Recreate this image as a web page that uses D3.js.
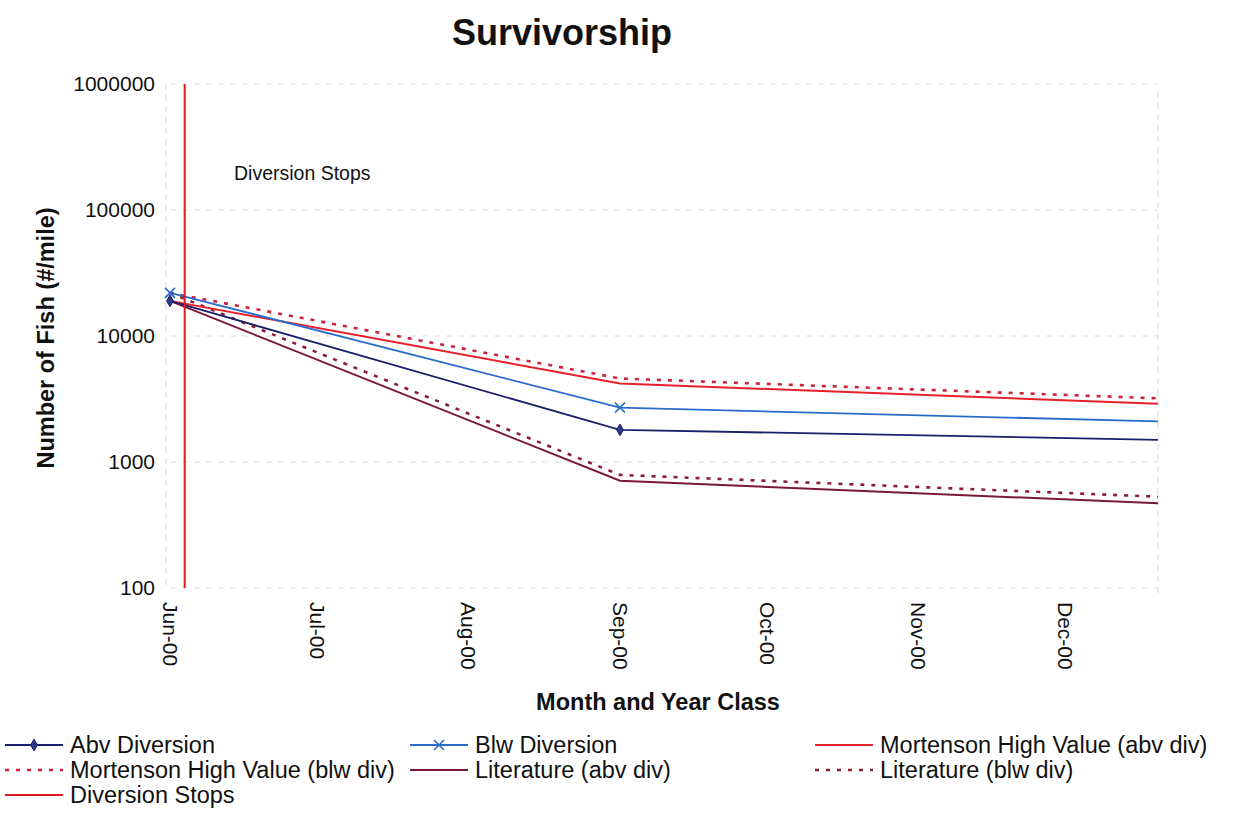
<!DOCTYPE html>
<html>
<head>
<meta charset="utf-8">
<script src="https://cdn.jsdelivr.net/npm/d3@7"></script>
<style>
  body { margin: 0; background: #fff; }
  svg { font-family: "Liberation Sans", Arial, sans-serif; }
</style>
</head>
<body>
<div id="chart"></div>
<script>
// data
const pointDates = ["2000-06-01", "2000-09-01", "2000-12-20"];
const abvDiversion = [19000, 1800, 1500];
const blwDiversion = [22000, 2700, 2100];
const mortensonAbv = [19000, 4200, 2900];
const mortensonBlw = [22000, 4600, 3200];
const literatureAbv = [19000, 710, 470];
const literatureBlw = [22000, 790, 530];
const diversionStopDate = "2000-06-04";
const diversionStopRange = [100, 1000000];
const yTicks = [100, 1000, 10000, 100000, 1000000];
const monthTicks = ["2000-06-01", "2000-07-01", "2000-08-01", "2000-09-01", "2000-10-01", "2000-11-01", "2000-12-01"];
const xDomain = ["2000-06-01", "2000-12-20"];

const parse = d3.utcParse("%Y-%m-%d");
const width = 1234, height = 824;
const plot = {left: 170, right: 1158, top: 84, bottom: 588};

const svg = d3.select("#chart").append("svg")
  .attr("width", width)
  .attr("height", height);

const x = d3.scaleUtc()
  .domain(xDomain.map(parse))
  .range([plot.left, plot.right]);

const y = d3.scaleLog()
  .domain([100, 1000000])
  .range([plot.bottom, plot.top]);

// grid
svg.append("g")
  .selectAll("line")
  .data(yTicks)
  .join("line")
  .attr("x1", plot.left)
  .attr("x2", plot.right)
  .attr("y1", d => y(d))
  .attr("y2", d => y(d))
  .attr("stroke", "#dedede")
  .attr("stroke-dasharray", "6,6");

svg.append("line")
  .attr("x1", plot.right).attr("x2", plot.right)
  .attr("y1", plot.top + 8).attr("y2", plot.bottom + 8)
  .attr("stroke", "#d8d8d8")
  .attr("stroke-dasharray", "6,5");

svg.append("line")
  .attr("x1", plot.left - 4).attr("x2", plot.left - 4)
  .attr("y1", plot.top).attr("y2", plot.bottom)
  .attr("stroke", "#d8d8d8")
  .attr("stroke-dasharray", "6,5");

// y axis labels
const yAxis = d3.axisLeft(y)
  .tickValues(yTicks)
  .tickFormat(d3.format("d"))
  .tickSize(0)
  .tickPadding(15);

svg.append("g")
  .attr("transform", `translate(${plot.left},0)`)
  .call(yAxis)
  .call(g => g.select(".domain").remove())
  .call(g => g.selectAll("text")
    .attr("font-size", 21)
    .attr("fill", "#111")
    .attr("font-family", "Liberation Sans, Arial, sans-serif"));

// x axis labels
const xAxis = d3.axisBottom(x)
  .tickValues(monthTicks.map(parse))
  .tickFormat(d3.utcFormat("%b-%y"))
  .tickSize(0);

svg.append("g")
  .attr("transform", `translate(0,${plot.bottom})`)
  .call(xAxis)
  .call(g => g.select(".domain").remove())
  .call(g => g.selectAll("text")
    .attr("font-size", 21)
    .attr("fill", "#111")
    .attr("font-family", "Liberation Sans, Arial, sans-serif")
    .attr("text-anchor", "start")
    .attr("transform", "rotate(90)")
    .attr("x", 14)
    .attr("y", 0)
    .attr("dy", "0.35em"));

// series
const series = [
  {name: "Literature (blw div)", values: literatureBlw, color: "#8c1c34", dash: "4,7", width: 2.6},
  {name: "Literature (abv div)", values: literatureAbv, color: "#7a1838", dash: null, width: 2},
  {name: "Mortenson High Value (blw div)", values: mortensonBlw, color: "#d0203c", dash: "4,7", width: 2.6},
  {name: "Mortenson High Value (abv div)", values: mortensonAbv, color: "#e8202c", dash: null, width: 2},
  {name: "Blw Diversion", values: blwDiversion, color: "#2a6ccc", dash: null, width: 1.8, marker: "x"},
  {name: "Abv Diversion", values: abvDiversion, color: "#1c1f6a", dash: null, width: 1.8, marker: "diamond"}
];

const line = d3.line()
  .x(d => x(d.date))
  .y(d => y(d.value));

series.forEach(s => {
  s.points = pointDates.map((d, i) => ({date: parse(d), value: s.values[i]}));
  svg.append("path")
    .datum(s.points)
    .attr("d", line)
    .attr("fill", "none")
    .attr("stroke", s.color)
    .attr("stroke-width", s.width)
    .attr("stroke-dasharray", s.dash);
});

function drawMarker(g, type, cx, cy, color) {
  if (type === "diamond") {
    g.append("path")
      .attr("d", d3.symbol(d3.symbolDiamond, 40)())
      .attr("transform", `translate(${cx},${cy})`)
      .attr("fill", "#2a3a8a")
      .attr("stroke", color)
      .attr("stroke-width", 1);
  } else if (type === "x") {
    g.append("path")
      .attr("d", "M-5,-5L5,5M-5,5L5,-5")
      .attr("transform", `translate(${cx},${cy})`)
      .attr("stroke", color)
      .attr("stroke-width", 1.6);
  }
}

const markers = svg.append("g");
series.filter(s => s.marker).forEach(s => {
  s.points.forEach(p => {
    if (p.date.getTime() === parse(pointDates[2]).getTime()) return;
    drawMarker(markers, s.marker, x(p.date), y(p.value), s.color);
  });
});

// diversion stops line
svg.append("line")
  .attr("x1", x(parse(diversionStopDate)))
  .attr("x2", x(parse(diversionStopDate)))
  .attr("y1", y(diversionStopRange[1]))
  .attr("y2", y(diversionStopRange[0]))
  .attr("stroke", "#e01a22")
  .attr("stroke-width", 2);

svg.append("text")
  .attr("x", 234)
  .attr("y", 180)
  .attr("font-size", 19.5)
  .attr("fill", "#111")
  .text("Diversion Stops");

// titles
svg.append("text")
  .attr("x", 562)
  .attr("y", 45)
  .attr("text-anchor", "middle")
  .attr("font-size", 36)
  .attr("font-weight", "bold")
  .attr("fill", "#111")
  .text("Survivorship");

svg.append("text")
  .attr("transform", `translate(54,338) rotate(-90)`)
  .attr("text-anchor", "middle")
  .attr("font-size", 23.5)
  .attr("font-weight", "bold")
  .attr("fill", "#111")
  .text("Number of Fish (#/mile)");

svg.append("text")
  .attr("x", 658)
  .attr("y", 710)
  .attr("text-anchor", "middle")
  .attr("font-size", 23.5)
  .attr("font-weight", "bold")
  .attr("fill", "#111")
  .text("Month and Year Class");

// legend
const legendItems = [
  {name: "Abv Diversion", col: 0, row: 0, color: "#1c1f6a", dash: null, marker: "diamond", w: 1.8},
  {name: "Blw Diversion", col: 1, row: 0, color: "#2a6ccc", dash: null, marker: "x", w: 1.8},
  {name: "Mortenson High Value (abv div)", col: 2, row: 0, color: "#e8202c", dash: null, w: 2},
  {name: "Mortenson High Value (blw div)", col: 0, row: 1, color: "#d0203c", dash: "4,7", w: 2.6},
  {name: "Literature (abv div)", col: 1, row: 1, color: "#7a1838", dash: null, w: 2},
  {name: "Literature (blw div)", col: 2, row: 1, color: "#8c1c34", dash: "4,7", w: 2.6},
  {name: "Diversion Stops", col: 0, row: 2, color: "#e01a22", dash: null, w: 2}
];
const colX = [5, 410, 815];
const rowY = [745, 770, 795];

const legend = svg.append("g");
legendItems.forEach(item => {
  const lx = colX[item.col], ly = rowY[item.row];
  legend.append("line")
    .attr("x1", lx).attr("x2", lx + 58)
    .attr("y1", ly).attr("y2", ly)
    .attr("stroke", item.color)
    .attr("stroke-width", item.w)
    .attr("stroke-dasharray", item.dash);
  if (item.marker) drawMarker(legend, item.marker, lx + 29, ly, item.color);
  legend.append("text")
    .attr("x", lx + 65)
    .attr("y", ly + 8)
    .attr("font-size", 23.5)
    .attr("fill", "#111")
    .text(item.name);
});
</script>
</body>
</html>
